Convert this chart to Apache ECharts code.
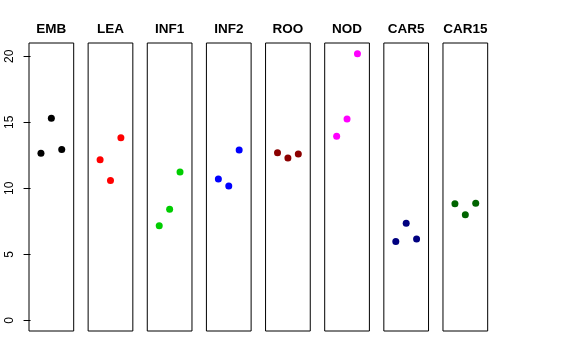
<!DOCTYPE html>
<html><head><meta charset="utf-8">
<script src="https://cdn.jsdelivr.net/npm/echarts@6/dist/echarts.min.js"></script>
<style>html,body{margin:0;padding:0;background:#fff}#c{width:576px;height:360px}</style>
</head><body><div id="c"></div>
<script>
const categories = ['EMB','LEA','INF1','INF2','ROO','NOD','CAR5','CAR15'];
const EMB   = [12.65, 15.30, 12.95];
const LEA   = [12.17, 10.59, 13.83];
const INF1  = [7.17, 8.41, 11.23];
const INF2  = [10.70, 10.17, 12.90];
const ROO   = [12.70, 12.30, 12.60];
const NOD   = [13.94, 15.25, 20.20];
const CAR5  = [5.98, 7.35, 6.16];
const CAR15 = [8.83, 8.00, 8.86];
const yTicks = [0, 5, 10, 15, 20];
const seriesValues = [EMB, LEA, INF1, INF2, ROO, NOD, CAR5, CAR15];
const colors = ['#000000','#FF0000','#00CD00','#0000FF','#8B0000','#FF00FF','#000080','#006400'];

const L0 = 29, STEP = 59.14, W = 44.7, TOP = 43, H = 288;
const grid = [], xAxis = [], yAxis = [], series = [], graphic = [];
categories.forEach((cat, i) => {
  const left = L0 + i * STEP;
  grid.push({left: left, top: TOP, width: W, height: H, show: true,
    borderColor: '#000', borderWidth: 1, backgroundColor: 'transparent', containLabel: false});
  xAxis.push({type: 'value', gridIndex: i, min: -0.15, max: 4.15, show: false});
  yAxis.push({type: 'value', gridIndex: i, min: -0.808, max: 21.008, show: i === 0,
    splitLine: {show: false}, axisLine: {show: false},
    axisTick: {show: true, length: 7, inside: false, customValues: yTicks, lineStyle: {color: '#000', width: 1}},
    axisLabel: {show: true, customValues: yTicks, rotate: 90, margin: 13, fontSize: 12,
      fontFamily: 'Liberation Sans, Arial, sans-serif', color: '#000'}});
  series.push({type: 'scatter', xAxisIndex: i, yAxisIndex: i, symbol: 'circle', symbolSize: 7,
    itemStyle: {color: colors[i], opacity: 1}, data: seriesValues[i].map((v, j) => [j + 1, v]), silent: true, animation: false});
  graphic.push({type: 'text', x: left + W / 2, y: 29.5, style: {text: cat, fontSize: 13.5, fontWeight: 'bold',
    fontFamily: 'Liberation Sans, Arial, sans-serif', fill: '#000', textAlign: 'center', textVerticalAlign: 'middle'}});
});
const chart = echarts.init(document.getElementById('c'), null, {renderer: 'canvas'});
chart.setOption({animation: false, grid, xAxis, yAxis, series, graphic});
</script></body></html>
